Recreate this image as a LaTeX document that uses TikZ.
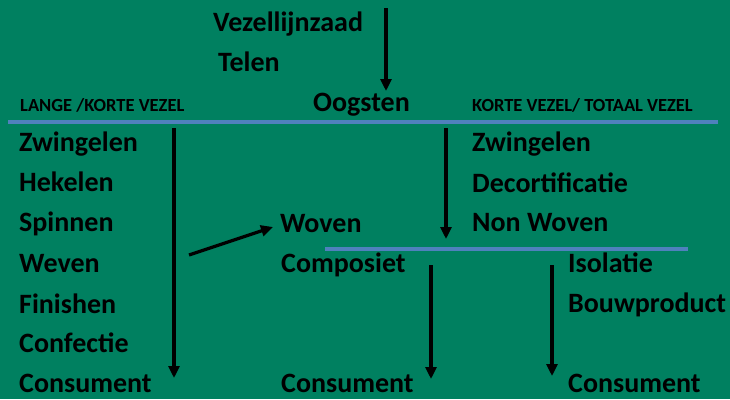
\documentclass[tikz,border=0pt]{standalone}
\usepackage{fontspec}
\setmainfont{Carlito}
\usetikzlibrary{arrows.meta}
\definecolor{slidegreen}{RGB}{0,128,96}
\definecolor{ruleblue}{RGB}{79,129,189}
\begin{document}
\begin{tikzpicture}[x=1pt,y=-1pt,
  step node/.style={anchor=base west,inner sep=0pt,font=\fontsize{28}{30}\selectfont\bfseries},
  head node/.style={anchor=base west,inner sep=0pt,font=\fontsize{18.5}{20}\selectfont\bfseries},
  flow/.style={line width=3.2pt,-{Triangle[width=11pt,length=12pt]}},
  rule/.style={ruleblue,line width=4pt}]

  \fill[slidegreen] (0,0) rectangle (730,399);
  \useasboundingbox (0,0) rectangle (730,399);

  % top
  \node[step node] (zaad) at (213,31) {Vezellijnzaad};
  \node[step node] (telen) at (218,71) {Telen};
  \node[step node] (oogst) at (313,111) {Oogsten};
  \node[head node] (lang) at (20,111) {LANGE /KORTE VEZEL};
  \node[head node] (kort) at (472,111) {KORTE VEZEL/ TOTAAL VEZEL};

  % left column
  \node[step node] (zw1) at (19,151) {Zwingelen};
  \node[step node] (hek) at (19,191) {Hekelen};
  \node[step node] (spin) at (19,231) {Spinnen};
  \node[step node] (weef) at (19,272) {Weven};
  \node[step node] (fin) at (19,313) {Finishen};
  \node[step node] (conf) at (19,352) {Confectie};
  \node[step node] (cons1) at (19,392) {Consument};

  % middle column
  \node[step node] (woven) at (280,232) {Woven};
  \node[step node] (comp) at (281,272) {Composiet};
  \node[step node] (cons2) at (281,392) {Consument};

  % right column
  \node[step node] (zw2) at (472,151) {Zwingelen};
  \node[step node] (deco) at (472,192) {Decortificatie};
  \node[step node] (nonw) at (472,231) {Non Woven};
  \node[step node] (iso) at (568,272) {Isolatie};
  \node[step node] (bouw) at (568,312) {Bouwproduct};
  \node[step node] (cons3) at (568,392) {Consument};

  \coordinate (r1a) at (8,122);   \coordinate (r1b) at (718,122);
  \coordinate (r2a) at (325,249); \coordinate (r2b) at (688,249);
  \draw[rule] (r1a) -- (r1b);
  \draw[rule] (r2a) -- (r2b);

  \coordinate (a1) at (386,8);   \coordinate (b1) at (386,91);
  \coordinate (a2) at (174,128); \coordinate (b2) at (174,378);
  \coordinate (a3) at (446,128); \coordinate (b3) at (446,239);
  \coordinate (a4) at (189,255); \coordinate (b4) at (273,227);
  \coordinate (a5) at (431,265); \coordinate (b5) at (431,379);
  \coordinate (a6) at (552,265); \coordinate (b6) at (552,376);

  \path[flow]
   (a1) edge (b1)
   (a2) edge (b2)
   (a3) edge (b3)
   (a4) edge (b4)
   (a5) edge (b5)
   (a6) edge (b6);
\end{tikzpicture}
\end{document}
